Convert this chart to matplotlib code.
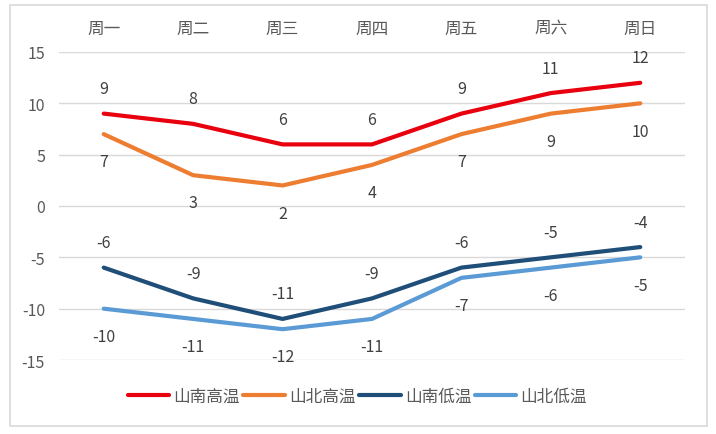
import numpy as np
import matplotlib.pyplot as plt
from matplotlib.patches import Rectangle

plt.rcParams['font.family'] = ['Noto Sans CJK SC', 'DejaVu Sans']
plt.rcParams['axes.unicode_minus'] = False

days = ['周一', '周二', '周三', '周四', '周五', '周六', '周日']
south_high = [9, 8, 6, 6, 9, 11, 12]
north_high = [7, 3, 2, 4, 7, 9, 10]
south_low = [-6, -9, -11, -9, -6, -5, -4]
north_low = [-10, -11, -12, -11, -7, -6, -5]

series = [
    ('山南高温', south_high, '#e8000e', 'above'),
    ('山北高温', north_high, '#ed7d31', 'below'),
    ('山南低温', south_low, '#1f4e79', 'above'),
    ('山北低温', north_low, '#5b9bd5', 'below'),
]

fig = plt.figure(figsize=(7.16, 4.35), dpi=100)
fig.patches.append(Rectangle((10 / 716, 1 - 427 / 435), 697 / 716, 421 / 435,
                             transform=fig.transFigure, fill=False,
                             edgecolor='#d9d9d9', linewidth=1.2))
ax = fig.add_axes([59 / 716, 1 - 361 / 435, 626 / 716, 308 / 435])

x = np.arange(len(days))
txt = '#595959'
for name, vals, color, pos in series:
    ax.plot(x, vals, color=color, linewidth=3, solid_capstyle='round',
            solid_joinstyle='round', label=name, zorder=3)
    off = 18 if pos == 'above' else -20
    for xi, v in zip(x, vals):
        ax.annotate(str(v), (xi, v), xytext=(0, off), textcoords='offset points',
                    ha='center', va='center', fontsize=11.5, color='#404040')

ax.set_xlim(-0.5, 6.5)
ax.set_ylim(-15, 15)
ax.set_yticks(range(-15, 16, 5))
ax.set_xticks(x)
ax.set_xticklabels(days)
ax.xaxis.tick_top()
ax.tick_params(axis='x', length=0, pad=11, labelsize=12, labelcolor=txt)
ax.tick_params(axis='y', length=0, pad=10, labelsize=11.5, labelcolor=txt)
ax.grid(axis='y', color='#d9d9d9', linewidth=1)
ax.set_axisbelow(True)
for s in ax.spines.values():
    s.set_visible(False)

fig.legend(loc='center', bbox_to_anchor=(0.499, 1 - 397 / 435), ncol=4,
           frameon=False, fontsize=12, handlelength=2.5, handletextpad=0.25,
           columnspacing=0.2, labelcolor=txt)

fig.savefig('out.png', dpi=100)
